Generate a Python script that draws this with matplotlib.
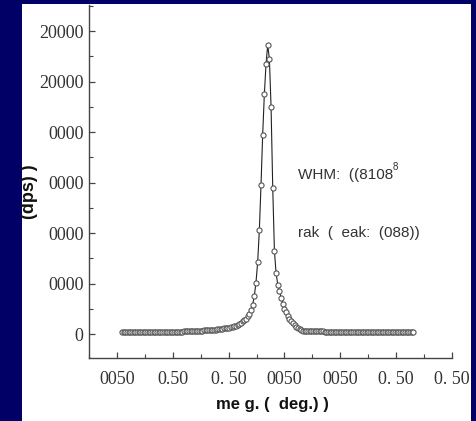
import matplotlib
matplotlib.use("Agg")
import matplotlib.pyplot as plt
from matplotlib.patches import Rectangle
from matplotlib.ticker import MultipleLocator
import numpy as np

# ---- data ----
x_start = 0.09
x_step = 0.03
left_baseline = [
    0.04, 0.04, 0.04, 0.04, 0.04, 0.04, 0.04, 0.04, 0.04, 0.04,
    0.04, 0.04, 0.04, 0.04, 0.04, 0.04, 0.04, 0.04, 0.04, 0.04,
    0.04, 0.04, 0.04, 0.04, 0.04, 0.04, 0.04, 0.04, 0.04, 0.04,
    0.04, 0.04, 0.04, 0.04, 0.04, 0.04, 0.04,
    0.05, 0.05, 0.05, 0.05, 0.05, 0.05, 0.06, 0.06, 0.06, 0.06,
    0.06, 0.06, 0.07, 0.07, 0.07, 0.07, 0.07,
    0.08, 0.08, 0.08, 0.09, 0.09, 0.10, 0.10, 0.11, 0.11, 0.12,
    0.12, 0.13, 0.14,
]
left_flank = [0.15, 0.16, 0.18, 0.20, 0.22, 0.25, 0.27, 0.30, 0.35, 0.40,
              0.47, 0.58, 0.75, 1.02, 1.42, 2.05, 2.95, 3.95, 4.75, 5.35]
peak = [5.72]
right_flank = [5.45, 4.50, 2.90, 1.65, 1.20, 0.98, 0.85, 0.72, 0.60, 0.50,
               0.43, 0.36, 0.30, 0.25, 0.21, 0.17, 0.14, 0.11, 0.09, 0.07]
right_baseline = [
    0.06, 0.06, 0.05, 0.05, 0.05, 0.05, 0.05, 0.05, 0.05, 0.05,
    0.05, 0.05, 0.05,
    0.04, 0.04, 0.04, 0.04, 0.04, 0.04, 0.04, 0.04, 0.04, 0.04,
    0.04, 0.04, 0.04, 0.04, 0.04, 0.04, 0.04, 0.04, 0.04, 0.04,
    0.04, 0.04, 0.04, 0.04, 0.04, 0.04, 0.04, 0.04, 0.04, 0.04,
    0.04, 0.04, 0.04, 0.04, 0.04, 0.04, 0.04, 0.04, 0.04, 0.04,
    0.04, 0.04, 0.04, 0.04, 0.04, 0.04, 0.04, 0.04, 0.04, 0.04,
    0.04, 0.04, 0.04, 0.04,
]
y_values = left_baseline + left_flank + peak + right_flank + right_baseline
x_values = x_start + x_step * np.arange(len(y_values))

x_tick_pos = [0, 1, 2, 3, 4, 5, 6]
x_tick_labels = ["0050", "0.50", "0. 50", "0050", "0050", "0. 50", "0. 50"]
y_tick_pos = [0, 1, 2, 3, 4, 5, 6]
y_tick_labels = ["0", "0000", "0000", "0000", "0000", "20000", "20000"]
x_label = "me g. (  deg.) )"
y_label = "(dps) )"
note1 = "WHM:  ((8108"
note1_sup = "8"
note2 = "rak  (  eak:  (088))"

# ---- figure ----
W, H = 477, 421
fig = plt.figure(figsize=(W / 100, H / 100), dpi=100)
fig.patch.set_facecolor("#000066")
fig.patches.append(Rectangle((22 / W, 0), (471 - 22) / W, (H - 4) / H,
                             transform=fig.transFigure, facecolor="white",
                             edgecolor="none", zorder=-10))

ax = fig.add_axes([89 / W, (H - 358) / H, (452 - 89) / W, (358 - 5) / H])
ax.set_facecolor("none")
ax.plot(x_values, y_values, color="#222222", lw=0.8, marker="o", ms=3.7,
        mfc="white", mec="#555555", mew=0.8)

ax.set_xlim(-0.5, 6.0)
ax.set_ylim(-0.475, 6.515)
for s in ("top", "right"):
    ax.spines[s].set_visible(False)
for s in ("left", "bottom"):
    ax.spines[s].set_color("#444444")
    ax.spines[s].set_linewidth(1.0)

ax.set_xticks(x_tick_pos)
ax.set_xticklabels(x_tick_labels)
ax.set_yticks(y_tick_pos)
ax.set_yticklabels(y_tick_labels)
ax.xaxis.set_minor_locator(MultipleLocator(0.5))
ax.yaxis.set_minor_locator(MultipleLocator(0.5))
ax.tick_params(which="both", direction="in", color="#444444")
ax.tick_params(which="major", length=4, width=0.9)
ax.tick_params(which="minor", length=3, width=0.8)
ax.tick_params(axis="y", pad=4)
ax.tick_params(axis="x", pad=9)
for lab in ax.get_xticklabels() + ax.get_yticklabels():
    lab.set_fontfamily("Liberation Serif")
    lab.set_fontsize(13)
    lab.set_color("#333333")

fig.text(272 / W, 1 - 404 / H, x_label, ha="center", va="center",
         fontsize=12, fontweight="bold", family="Liberation Sans", color="#111111")
fig.text(30 / W, 1 - 192 / H, y_label, ha="center", va="center", rotation=90,
         fontsize=13, fontweight="bold", family="Liberation Sans", color="#111111")

ax.text(3.24, 3.15, note1, ha="left", va="center", fontsize=11,
        family="Liberation Sans", color="#333333")
ax.text(4.94, 3.3, note1_sup, ha="left", va="center", fontsize=7,
        family="Liberation Sans", color="#333333")
ax.text(3.24, 2.0, note2, ha="left", va="center", fontsize=11,
        family="Liberation Sans", color="#333333")

fig.patches.append(Rectangle((471 / W, 0), 6 / W, 1, transform=fig.transFigure,
                             facecolor="#000066", edgecolor="none", zorder=100))

fig.savefig("out.png", dpi=100, facecolor=fig.get_facecolor())
